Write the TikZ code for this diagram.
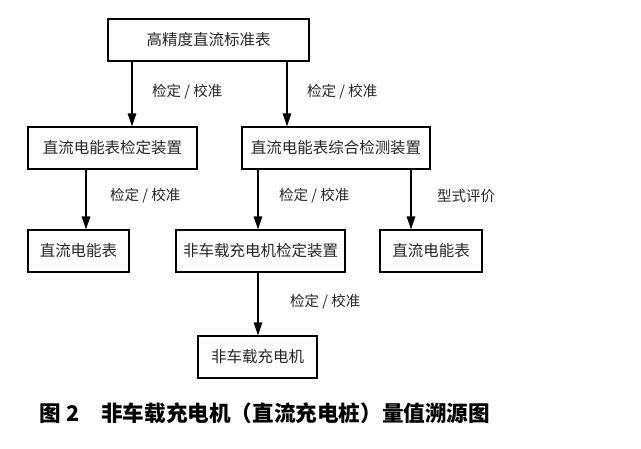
\documentclass[tikz,border=0pt]{standalone}
\usepackage{fontspec}
\setmainfont{Noto Sans CJK SC}
\usetikzlibrary{positioning,arrows.meta,calc}

\begin{document}
\begin{tikzpicture}[x=1pt, y=-1pt,
  box/.style={draw, line width=1.2pt, minimum height=42pt, inner sep=0pt,
    font=\fontsize{15.5}{18}\selectfont, text=black!85},
  lab/.style={anchor=west, inner sep=0pt, font=\fontsize{14.5}{17}\selectfont, text=black!85},
  arr/.style={line width=1.2pt, -{Triangle[length=13pt,width=8.5pt]}}]

% Fix the page size
\useasboundingbox (0,0) rectangle (641,448);

% Top: the standard meter
\node[box, minimum width=201pt] (std) at (208.5,40) {高精度直流标准表};

% Second row
\node[box, minimum width=169pt] (devA) at (112.5,148) {直流电能表检定装置};
\node[box, minimum width=188pt] (devB) at (336,148) {直流电能表综合检测装置};

% Third row
\node[box, minimum width=101pt] (meterA) at (78.5,251) {直流电能表};
\node[box, minimum width=169pt] (devC) at (260.5,251) {非车载充电机检定装置};
\node[box, minimum width=102pt] (meterB) at (431,251) {直流电能表};

% Bottom: the charger
\node[box, minimum width=119pt] (chg) at (257.5,357) {非车载充电机};

% x positions of the arrows
\coordinate (x1) at (132,0);
\coordinate (x2) at (287,0);
\coordinate (x3) at (86,0);
\coordinate (x4) at (258,0);
\coordinate (x5) at (411,0);

% Arrows
\draw[arr] (std.south -| x1) -- (devA.north -| x1);
\draw[arr] (std.south -| x2) -- (devB.north -| x2);
\draw[arr] (devA.south -| x3) -- (meterA.north -| x3);
\draw[arr] (devB.south -| x4) -- (devC.north -| x4);
\draw[arr] (devB.south -| x5) -- (meterB.north -| x5);
\draw[arr] (devC.south -| x4) -- (chg.north -| x4);

% Arrow labels
\node[lab] (l1) at (152,92) {检定 / 校准};
\node[lab] (l2) at (307,92) {检定 / 校准};
\node[lab] (l3) at (110,196) {检定 / 校准};
\node[lab] (l4) at (279,196) {检定 / 校准};
\node[lab] (l5) at (437,196) {型式评价};
\node[lab] (l6) at (290,302) {检定 / 校准};

% Caption
\node[font=\fontsize{21.6}{25}\selectfont\bfseries] (cap) at (265,413)
  {图 2\quad 非车载充电机（直流充电桩）量值溯源图};

\end{tikzpicture}
\end{document}
